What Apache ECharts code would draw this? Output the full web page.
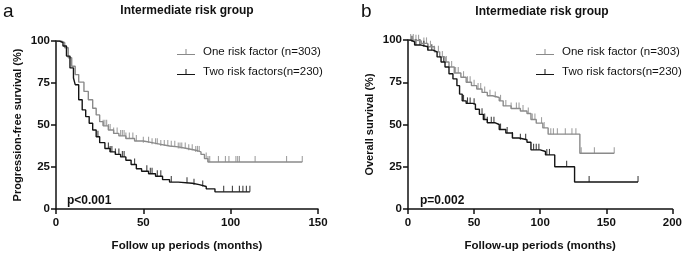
<!DOCTYPE html>
<html>
<head>
<meta charset="utf-8">
<script src="https://cdn.jsdelivr.net/npm/echarts@6/dist/echarts.min.js"></script>
<style>
  html, body { margin: 0; padding: 0; background: #fff; }
  #chart { width: 685px; height: 257px; }
</style>
</head>
<body>
<div id="chart"></div>
<script>
// panel a: progression-free survival, [months, %]
var pfsOne = [
  [0, 100], [3, 99], [5, 96], [7, 90], [9, 85], [11, 80], [13, 75.5], [16, 70],
  [18.5, 65], [21, 60], [23, 56], [25, 52], [27, 49.5], [30, 47], [33, 45],
  [36, 43.5], [40, 42], [45, 40.5], [50, 39.5], [55, 38.5], [60, 37.5], [65, 37],
  [70, 36], [75, 35], [80, 34], [83, 32.5], [85, 30], [87, 28], [141, 28]
];
var pfsTwo = [
  [0, 100], [2, 99], [4, 97], [6, 91], [8, 84], [10, 78], [11, 74], [13, 65],
  [15, 59], [17, 55], [19, 51], [21, 47], [23, 43], [25, 39.5], [28, 36], [31, 34],
  [34, 32.5], [37, 31], [40, 29], [43, 26.5], [46, 24], [49, 22.5], [53, 21],
  [57, 19.5], [61, 17.5], [65, 16], [70, 15.3], [78, 14.5], [82, 13.4], [86, 12],
  [91, 10.2], [111, 10.2]
];
var pfsOneCensor = [27, 28, 29, 30, 31, 33, 35, 37, 38, 39, 40, 42, 44, 46, 50, 53, 55, 57,
  58, 60, 62, 64, 66, 68, 70, 71, 72, 74, 76, 78, 80, 81, 82, 86, 87, 88, 93, 97, 99,
  103, 104, 105, 114, 132, 141];
var pfsTwoCensor = [24, 30, 31, 32, 34, 36, 38, 39, 45, 52, 54, 55, 58, 60, 66, 75, 79, 84,
  96, 101, 105, 107, 109, 111];

// panel b: overall survival, [months, %]
var osOne = [
  [0, 100], [5, 99.5], [10, 98], [15, 96], [20, 93], [24, 90], [28, 87], [31, 84],
  [35, 80.5], [40, 78], [44, 75], [48, 73], [52, 71], [56, 69], [60, 67], [64, 66],
  [69, 64], [72, 61], [78, 59.5], [85, 58], [90, 56.5], [93, 53], [97, 50.8],
  [102, 48], [106, 44.3], [130, 33], [156, 33]
];
var osTwo = [
  [0, 100], [2, 98.9], [5, 97], [10, 96], [15, 94], [19, 93], [22, 90], [25, 87],
  [28, 84], [31, 80], [34, 77], [37, 73], [39, 68], [41, 64], [44, 62.5], [49, 62],
  [51, 59], [54, 56], [57, 53], [60, 51], [66, 50], [69, 47], [74, 45], [79, 42],
  [84, 41], [90, 39.5], [93, 35], [100, 34], [104, 32], [111, 25], [126, 16], [174, 16]
];
var osOneCensor = [2, 4, 6, 8, 12, 14, 17, 20, 23, 26, 29, 33, 36, 38, 42, 45, 47, 50, 53,
  55, 58, 62, 66, 70, 74, 78, 82, 84, 87, 91, 94, 96, 101, 103, 108, 110, 113, 119, 124,
  127, 131, 141, 156];
var osTwoCensor = [3, 6, 9, 12, 15, 18, 27, 42, 45, 47, 50, 56, 58, 60, 63, 65, 70, 75, 79,
  85, 89, 95, 97, 99, 105, 107, 120, 137, 174];

var yTicks = [0, 25, 50, 75, 100];
var nameOne = 'One risk factor (n=303)';
var nameTwo = 'Two risk factors(n=230)';

var grey = '#8a8a8a';
var black = '#141414';
var font = '"Liberation Sans", Arial, sans-serif';

// survival value at time t from a step curve
function survAt(curve, t) {
  var s = curve[0][1];
  for (var i = 0; i < curve.length; i++) {
    if (curve[i][0] <= t) s = curve[i][1];
  }
  return s;
}
function censorPoints(curve, times) {
  return times.map(function (t) { return [t, survAt(curve, t)]; });
}

function xAxis(grid, max, name) {
  return {
    type: 'value', gridIndex: grid, min: 0, max: max, interval: 50,
    name: name, nameLocation: 'middle', nameGap: 31,
    nameTextStyle: {fontFamily: font, fontWeight: 'bold', fontSize: 11.5, color: '#111'},
    splitLine: {show: false},
    axisLine: {lineStyle: {color: '#111', width: 1.5}},
    axisTick: {length: 5, lineStyle: {color: '#111', width: 1.5}},
    axisLabel: {margin: 8, fontFamily: font, fontWeight: 'bold', fontSize: 11.5, color: '#111'}
  };
}
function yAxis(grid, name) {
  return {
    type: 'value', gridIndex: grid, min: 0, max: 100, interval: 25,
    name: name, nameLocation: 'middle', nameGap: 33, nameRotate: 90,
    nameTextStyle: {fontFamily: font, fontWeight: 'bold', fontSize: 11, color: '#111'},
    splitLine: {show: false},
    axisLine: {lineStyle: {color: '#111', width: 1.5}},
    axisTick: {length: 5, lineStyle: {color: '#111', width: 1.5}},
    axisLabel: {margin: 6, fontFamily: font, fontWeight: 'bold', fontSize: 11.5, color: '#111',
      formatter: function (v) { return yTicks.indexOf(v) >= 0 ? String(v) : ''; }}
  };
}
function curve(name, data, color, idx) {
  return {
    name: name, type: 'line', step: 'end', data: data, xAxisIndex: idx, yAxisIndex: idx,
    symbol: 'none', color: color, lineStyle: {color: color, width: 1.4}, animation: false
  };
}
function ticks(data, color, idx) {
  return {
    type: 'scatter', data: data, xAxisIndex: idx, yAxisIndex: idx,
    symbol: 'rect', symbolSize: [1.1, 6], symbolOffset: [0, -3],
    itemStyle: {color: color}, silent: true, animation: false
  };
}
var legendIcon = 'path://M0,10L36,10L36,12L0,12Z M17,0L19,0L19,10L17,10Z';
function legend(left) {
  return {
    left: left, top: 41, orient: 'vertical', itemGap: 8,
    itemWidth: 18, itemHeight: 6, icon: legendIcon, selectedMode: false,
    data: [nameOne, nameTwo],
    textStyle: {fontFamily: font, fontSize: 11.5, color: '#111', padding: [0, 0, 0, 3]}
  };
}
function label(text, x, y, size, weight, align) {
  return {
    type: 'text', x: x, y: y,
    style: {text: text, fontFamily: font, fontSize: size, fontWeight: weight,
      fill: '#111', textAlign: align || 'left', textVerticalAlign: 'middle'}
  };
}

var chart = echarts.init(document.getElementById('chart'));
chart.setOption({
  backgroundColor: '#fff',
  animation: false,
  grid: [
    {left: 56, top: 41, width: 262, height: 174},
    {left: 408, top: 40, width: 265, height: 177}
  ],
  xAxis: [xAxis(0, 150, 'Follow up periods (months)'), xAxis(1, 200, 'Follow-up periods (months)')],
  yAxis: [yAxis(0, 'Progression-free survival (%)'), yAxis(1, 'Overall survival (%)')],
  legend: [legend(172), legend(531)],
  graphic: [
    label('a', 3, 12, 19, 'normal'),
    label('b', 361, 12, 19, 'normal'),
    label('Intermediate risk group', 187, 11, 12, 'bold', 'center'),
    label('Intermediate risk group', 542, 12, 12, 'bold', 'center'),
    label('p<0.001', 67, 201, 12, 'bold'),
    label('p=0.002', 420, 201, 12, 'bold')
  ],
  series: [
    curve(nameOne, pfsOne, grey, 0),
    curve(nameTwo, pfsTwo, black, 0),
    ticks(censorPoints(pfsOne, pfsOneCensor), grey, 0),
    ticks(censorPoints(pfsTwo, pfsTwoCensor), black, 0),
    curve(nameOne, osOne, grey, 1),
    curve(nameTwo, osTwo, black, 1),
    ticks(censorPoints(osOne, osOneCensor), grey, 1),
    ticks(censorPoints(osTwo, osTwoCensor), black, 1)
  ]
});
</script>
</body>
</html>
